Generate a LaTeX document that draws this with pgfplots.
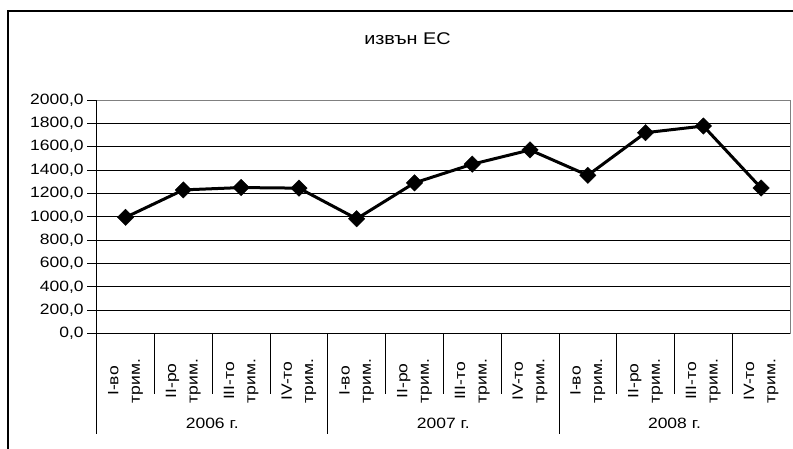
\documentclass[border=0pt]{standalone}
\usepackage{fontspec}
\setmainfont{Liberation Sans}[FakeStretch=1.17]
\usepackage{pgfplots}
\pgfplotsset{compat=1.18}
\begin{document}
\begin{tikzpicture}
\begin{axis}[
  scale only axis,
  width=693.3bp, height=233.5bp,
  at={(96.7bp,115.5bp)}, anchor=south west,
  xmin=-0.5, xmax=11.5,
  ymin=0, ymax=2000,
  ytick={0,200,...,2000},
  xtick={0,...,11},
  xticklabels={{I-во\\трим.},{II-ро\\трим.},{III-то\\трим.},{IV-то\\трим.},
               {I-во\\трим.},{II-ро\\трим.},{III-то\\трим.},{IV-то\\трим.},
               {I-во\\трим.},{II-ро\\трим.},{III-то\\трим.},{IV-то\\трим.}},
  axis lines=left,
  axis line style={-, black, line width=0.8bp},
  tick align=outside,
  major tick length=9.5bp,
  major x tick style={draw=none},
  y tick style={black, line width=0.8bp},
  ymajorgrids,
  grid style={black, line width=0.8bp},
  yticklabel style={font=\fontsize{15}{18}\selectfont,
    /pgf/number format/.cd, fixed, fixed zerofill, precision=1, use comma, 1000 sep={}, assume math mode=true},
  xticklabel style={yshift=-38bp, rotate=90, anchor=center, align=center,
    font=\fontsize{15}{21.5}\selectfont},
  clip=false,
]
\addplot[black, line width=3bp, mark=square*, mark size=5.8bp,
  mark options={rotate=45, line width=0.4bp, fill=black}]
  coordinates {(0,995) (1,1230) (2,1250) (3,1245) (4,983) (5,1290)
               (6,1450) (7,1572) (8,1355) (9,1720) (10,1777) (11,1246)};
\draw[gray, line width=0.8bp] (rel axis cs:0,1) -- (rel axis cs:1,1) -- (rel axis cs:1,0);
\draw[black, line width=0.8bp] (axis cs:0.5,0) -- ([yshift=-60bp]axis cs:0.5,0);
\draw[black, line width=0.8bp] (axis cs:1.5,0) -- ([yshift=-60bp]axis cs:1.5,0);
\draw[black, line width=0.8bp] (axis cs:2.5,0) -- ([yshift=-60bp]axis cs:2.5,0);
\draw[black, line width=0.8bp] (axis cs:4.5,0) -- ([yshift=-60bp]axis cs:4.5,0);
\draw[black, line width=0.8bp] (axis cs:5.5,0) -- ([yshift=-60bp]axis cs:5.5,0);
\draw[black, line width=0.8bp] (axis cs:6.5,0) -- ([yshift=-60bp]axis cs:6.5,0);
\draw[black, line width=0.8bp] (axis cs:8.5,0) -- ([yshift=-60bp]axis cs:8.5,0);
\draw[black, line width=0.8bp] (axis cs:9.5,0) -- ([yshift=-60bp]axis cs:9.5,0);
\draw[black, line width=0.8bp] (axis cs:10.5,0) -- ([yshift=-60bp]axis cs:10.5,0);
\draw[black, line width=0.8bp] (axis cs:-0.5,0) -- ([yshift=-100bp]axis cs:-0.5,0);
\draw[black, line width=0.8bp] (axis cs:3.5,0) -- ([yshift=-100bp]axis cs:3.5,0);
\draw[black, line width=0.8bp] (axis cs:7.5,0) -- ([yshift=-100bp]axis cs:7.5,0);
\node[anchor=base, font=\fontsize{15}{18}\selectfont] at (axis cs:1.5,0) [yshift=-94.5bp] {2006 г.};
\node[anchor=base, font=\fontsize{15}{18}\selectfont] at (axis cs:5.5,0) [yshift=-94.5bp] {2007 г.};
\node[anchor=base, font=\fontsize{15}{18}\selectfont] at (axis cs:9.5,0) [yshift=-94.5bp] {2008 г.};
\end{axis}
\node[anchor=base, font=\fontsize{17}{20}\selectfont] at (407.5bp,404bp) {извън ЕС};
\draw[black, line width=1.6bp] (8bp,-5bp) -- (8bp,438bp) -- (800bp,438bp);
\pgfresetboundingbox
\path[use as bounding box] (0,0) rectangle (793bp,449bp);
\end{tikzpicture}
\end{document}
